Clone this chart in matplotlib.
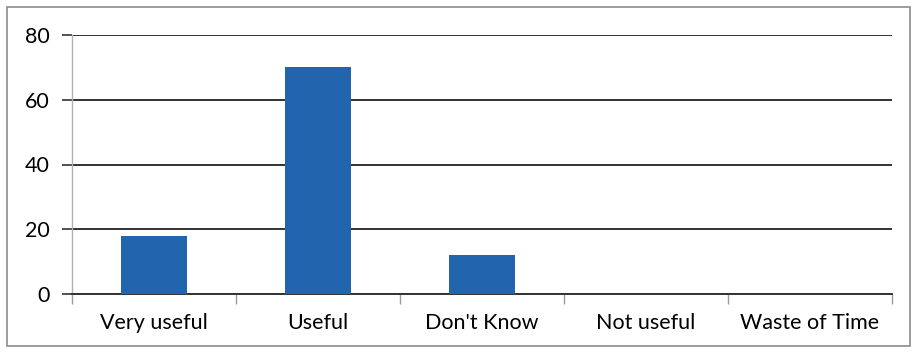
import numpy as np
import matplotlib.pyplot as plt
from matplotlib.patches import Rectangle

# --- data ---
categories = ['Very useful', 'Useful', "Don't Know", 'Not useful', 'Waste of Time']
counts = [18, 70, 12, 0, 0]
y_ticks = [0, 20, 40, 60, 80]

plt.rcParams['font.family'] = ['Lato', 'DejaVu Sans']

fig = plt.figure(figsize=(9.18, 3.55), dpi=100)
ax = fig.add_axes([72 / 918, 61 / 355, 820 / 918, 259 / 355])

x = np.arange(len(categories))
ax.bar(x, counts, width=0.4, color='#2264ad', zorder=3)

ax.set_xlim(-0.5, len(categories) - 0.5)
ax.set_ylim(0, 80)
ax.set_yticks(y_ticks)
ax.yaxis.grid(True, color='#333333', linewidth=1.4, zorder=1)
ax.tick_params(axis='y', length=7, width=1.2, color='#333333', labelsize=15.5, pad=9)

# category labels centered, ticks at category boundaries
ax.set_xticks(x)
ax.set_xticklabels(categories)
ax.tick_params(axis='x', which='major', length=0, labelsize=15.5, pad=14)
ax.set_xticks(np.arange(-0.5, len(categories) - 0.4, 1.0), minor=True)
ax.tick_params(axis='x', which='minor', length=7, width=1.0, color='#9a9a9a')

for side in ['top', 'right']:
    ax.spines[side].set_visible(False)
ax.spines['left'].set_color('#b0b0b0')
ax.spines['left'].set_linewidth(1.0)
ax.spines['bottom'].set_color('#333333')
ax.spines['bottom'].set_linewidth(1.4)

# outer chart border
fig.patches.append(Rectangle((7 / 918, 9 / 355), 903 / 918, 339 / 355,
                             transform=fig.transFigure, fill=False,
                             edgecolor='#8c8c8c', linewidth=1.2))

fig.savefig('out.png', dpi=100)
